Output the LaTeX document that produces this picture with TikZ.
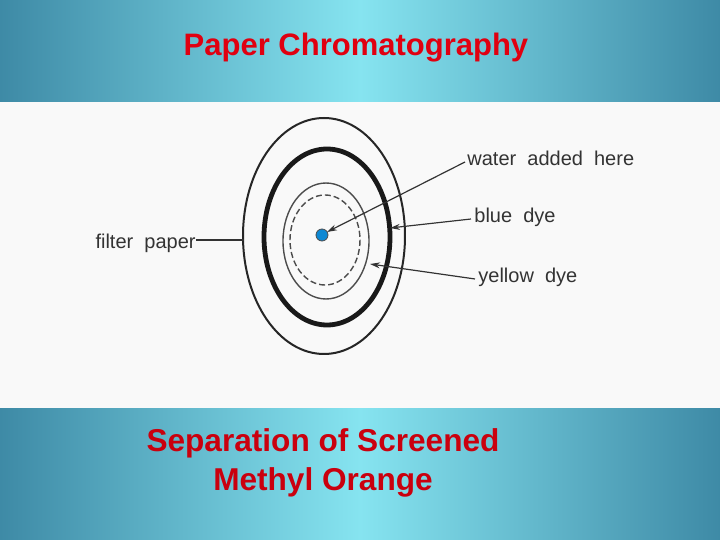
\documentclass[tikz,border=0pt]{standalone}
\usepackage{fontspec}
\setmainfont{Liberation Sans}
\usetikzlibrary{arrows.meta}
\definecolor{bandD}{HTML}{3E8AA6}
\definecolor{bandL}{HTML}{86E4F0}
\definecolor{ttl}{HTML}{E00010}
\tikzset{
  lbl/.style={font=\fontsize{10}{11}\selectfont, text=black!80, inner sep=0pt, anchor=west},
  ptr/.style={draw=black!80, line width=0.6pt, -{Stealth[length=5pt,width=3pt]}},
}
\begin{document}
\begin{tikzpicture}[x=0.5pt,y=-0.5pt]
\useasboundingbox (0,0) rectangle (720,540);
% bands
\shade[left color=bandD, right color=bandL] (0,0) rectangle (360,102);
\shade[left color=bandL, right color=bandD] (360,0) rectangle (720,102);
\shade[left color=bandD, right color=bandL] (0,408) rectangle (360,540);
\shade[left color=bandL, right color=bandD] (360,408) rectangle (720,540);
\fill[white!95!gray] (0,102) rectangle (720,408);
\node[font=\bfseries\fontsize{15.5}{18}\selectfont, text=ttl] (title) at (356,48) {Paper Chromatography};
\node[font=\bfseries\fontsize{15.8}{19.5}\selectfont, text=ttl!90!black, align=center] (sub) at (323,463) {Separation of Screened\\Methyl Orange};
% circles
\draw[black!85, line width=1pt] (324,236) ellipse (81 and 118);
\draw[black!90, line width=2.4pt] (327,237) ellipse (63 and 88);
\draw[black!70, line width=0.7pt] (326,241) ellipse (43 and 58);
\draw[black!70, line width=0.7pt, dash pattern=on 3pt off 1.5pt] (325,240) ellipse (35 and 45);
\node[circle, fill=cyan!70!blue, draw=black!70, minimum size=6pt, inner sep=0pt] (dot) at (322,235) {};
% labels
\node[lbl] (water) at (467,158) {water\ \ added\ \ here};
\node[lbl] (blue) at (474,217) {blue\ \ dye};
\node[lbl] (yellow) at (478,277) {yellow\ \ dye};
\node[lbl, anchor=east] (filter) at (196,243) {filter\ \ paper};
\coordinate (wa) at (327,232);
\coordinate (ba) at (390,228);
\coordinate (ya) at (370,264);
\coordinate (fa) at (244,240);
\draw[ptr] (water.west) ++(-2,4) -- (wa);
\draw[ptr] (blue.west) ++(-3,2) -- (ba);
\draw[ptr] (yellow.west) ++(-3,2) -- (ya);
\draw[black!80, line width=0.6pt] (filter.east) ++(0,-3) -- (fa);
\end{tikzpicture}
\end{document}
